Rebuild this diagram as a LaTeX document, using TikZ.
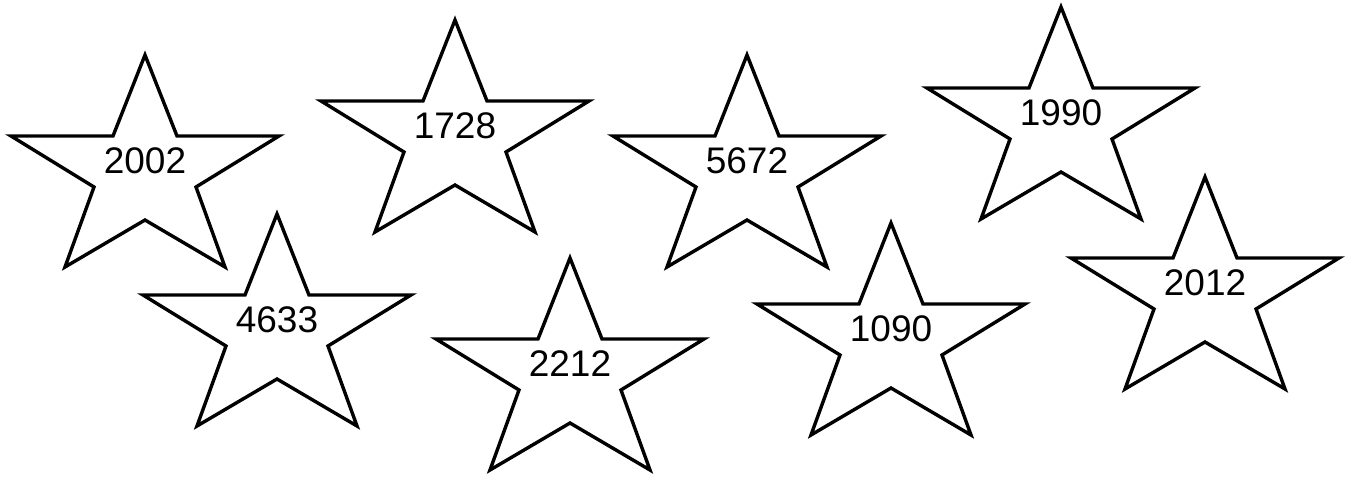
\documentclass[tikz,border=0pt]{standalone}
\usepackage{fontspec}
\setmainfont{Liberation Sans}
\begin{document}
\begin{tikzpicture}[x=1pt,y=-1pt,
  starline/.style={line width=3.4pt,draw=black,line join=miter},
  starlabel/.style={font=\fontsize{37}{44}\selectfont,inner sep=0pt}]
\useasboundingbox (0,0) rectangle (1346,477);
\newcommand\mystarshape[4]{%
  \draw[starline] ({#2},{#3+3}) -- ({#2+32},{#3+84}) -- ({#2+134},{#3+84})
    -- ({#2+51},{#3+135}) -- ({#2+80},{#3+215}) -- ({#2},{#3+168})
    -- ({#2-80},{#3+215}) -- ({#2-51},{#3+135}) -- ({#2-134},{#3+84})
    -- ({#2-32},{#3+84}) -- cycle;
  \node[starlabel] (#1) at ({#2},{#3+109}) {#4};
}
\mystarshape{s2002}{145}{52}{2002}
\mystarshape{s4633}{277}{211}{4633}
\mystarshape{s1728}{455}{17}{1728}
\mystarshape{s2212}{570}{255}{2212}
\mystarshape{s5672}{747}{52}{5672}
\mystarshape{s1090}{891}{220}{1090}
\mystarshape{s1990}{1061}{4}{1990}
\mystarshape{s2012}{1205}{174}{2012}
\end{tikzpicture}
\end{document}
